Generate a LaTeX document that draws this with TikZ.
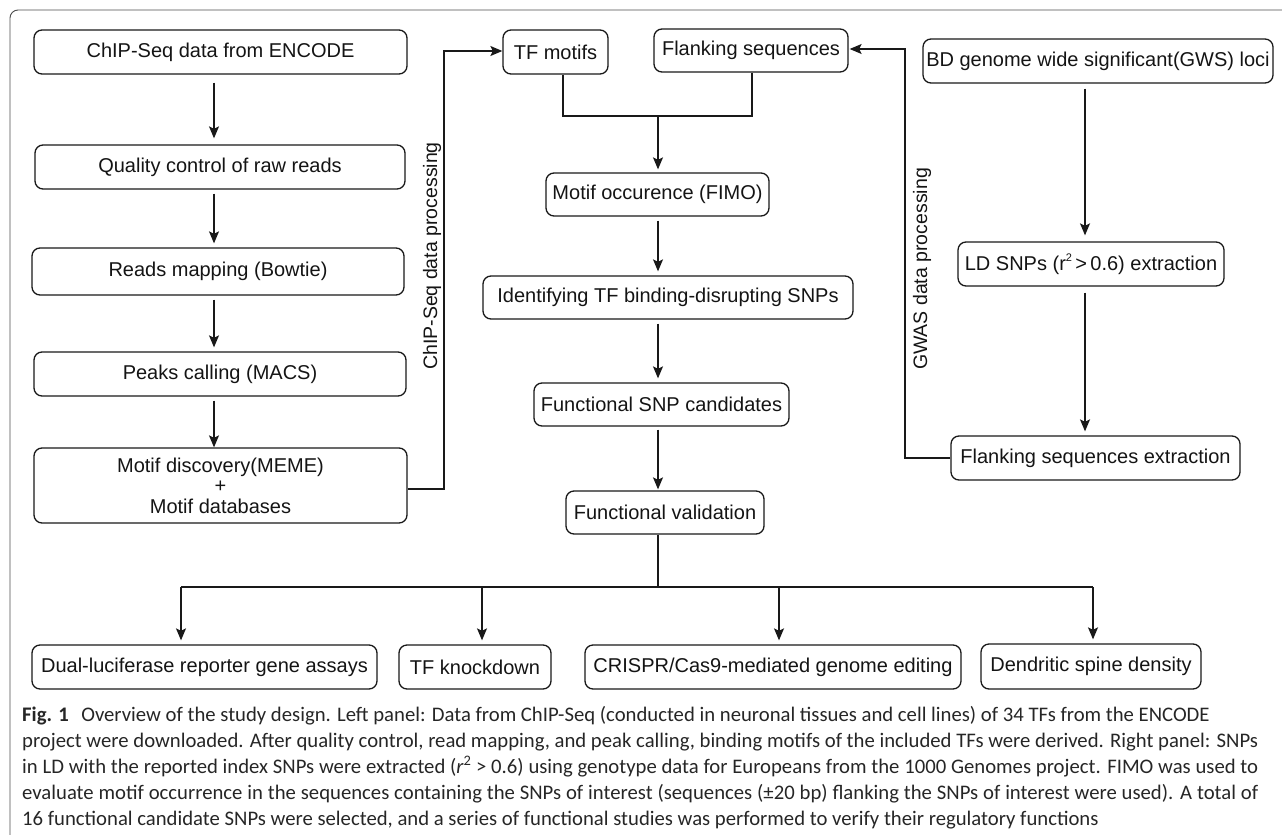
\documentclass[tikz,border=0pt]{standalone}
\usepackage{fontspec}
\setmainfont{Liberation Sans}
\newfontfamily\capfont{Carlito}
\usetikzlibrary{arrows.meta,calc}
\newcommand\capLa{\textbf{Fig. 1}\hspace{0.6em}Overview of the study design. Left panel: Data from ChIP-Seq (conducted in neuronal tissues and cell lines) of 34 TFs from the ENCODE}
\newcommand\capLb{project were downloaded. After quality control, read mapping, and peak calling, binding motifs of the included TFs were derived. Right panel: SNPs}
\newcommand\capLc{in LD with the reported index SNPs were extracted ({\itshape r}\textsuperscript{2} > 0.6) using genotype data for Europeans from the 1000 Genomes project. FIMO was used to}
\newcommand\capLd{evaluate motif occurrence in the sequences containing the SNPs of interest (sequences (±20 bp) flanking the SNPs of interest were used). A total of}
\newcommand\capLe{16 functional candidate SNPs were selected, and a series of functional studies was performed to verify their regulatory functions}
\newlength\capwa \newlength\capwb \newlength\capwc
\begin{document}
\settowidth\capwa{\capfont\fontsize{10}{12}\selectfont\capLb}%
\settowidth\capwb{\capfont\fontsize{10}{12}\selectfont\capLc}%
\settowidth\capwc{\capfont\fontsize{10}{12}\selectfont\capLd}%
\pgfmathsetmacro\capsize{10*1236/max(\capwa,\capwb,\capwc)}%
\begin{tikzpicture}[x=1pt,y=-1pt,
  box/.style={draw=black!90,line width=1.3pt,rounded corners=8pt,minimum height=44pt,inner sep=0pt,
    font=\fontsize{20}{20.5}\selectfont,align=center,text=black!92},
  conn/.style={line width=1.3pt,draw=black!90},
  arr/.style={conn,-{Stealth[length=12pt,width=10pt,inset=2.5pt]}},
  gap/.style={shorten <=4pt,shorten >=4pt},
  side/.style={rotate=90,inner sep=0pt,font=\fontsize{19.5}{20}\selectfont,text=black!92},
  captxt/.style={anchor=base west,inner sep=0pt,font=\capfont\fontsize{\capsize}{\capsize}\selectfont,text=black!85}
]
\useasboundingbox (0,0) rectangle (1282,835);
% frame
\draw[line width=0.9pt,draw=black!70,rounded corners=8pt] (10,835) -- (10,10) -- (1282,10);

% left column
\node[box,minimum width=373pt] (chip) at (220.5,52) {ChIP-Seq data from ENCODE};
\node[box,minimum width=370pt] (qc) at (220,167) {Quality control of raw reads};
\node[box,minimum width=372pt,minimum height=47pt] (map) at (218,271.5) {Reads mapping (Bowtie)};
\node[box,minimum width=372pt] (peak) at (220,374) {Peaks calling (MACS)};
\node[box,minimum width=373pt,minimum height=75pt] (meme) at (220.5,485.5) {Motif discovery(MEME)\\+\\Motif databases};

% middle column
\node[box,minimum width=105pt] (tf) at (555.5,52) {TF motifs};
\node[box,minimum width=194pt,minimum height=43pt] (flank) at (751,50.5) {Flanking sequences};
\node[box,minimum width=223pt,minimum height=43pt] (fimo) at (657.5,194.5) {Motif occurence (FIMO)};
\node[box,minimum width=370pt,minimum height=43pt] (ident) at (668,297.5) {Identifying TF binding-disrupting SNPs};
\node[box,minimum width=255pt,minimum height=43pt] (cand) at (661.5,404.5) {Functional SNP candidates};
\node[box,minimum width=198pt,minimum height=43pt] (fval) at (665,512.5) {Functional validation};

% right column
\node[box,minimum width=350pt] (bd) at (1098,61) {BD genome wide significant(GWS) loci};
\node[box,minimum width=266pt] (ld) at (1091,264) {LD SNPs (r\raisebox{0.45em}{\fontsize{11}{11}\selectfont 2}\,{>}\,0.6) extraction};
\node[box,minimum width=289pt] (fext) at (1095.5,458) {Flanking sequences extraction};

% bottom row
\node[box,minimum width=345pt] (dual) at (204.5,667) {Dual-luciferase reporter gene assays};
\node[box,minimum width=152pt] (tfk) at (475,667) {TF knockdown};
\node[box,minimum width=376pt] (crispr) at (773,667) {CRISPR/Cas9-mediated genome editing};
\node[box,minimum width=220pt,minimum height=45pt] (dend) at (1091,666.5) {Dendritic spine density};

% side labels
\node[side] (lchip) at (432,256) {ChIP-Seq data processing};
\node[side] (lgwas) at (922,269) {GWAS data processing};

% helper coordinates
\coordinate (xl) at (214,0);
\coordinate (xm) at (658,0);
\coordinate (xtf) at (563,0);
\coordinate (xfl) at (752,0);
\coordinate (xr) at (1085,0);
\coordinate (join) at (658,116);
\coordinate (cl) at (444,51);
\coordinate (cr) at (905,49);
\coordinate (busL) at (181,587);
\coordinate (busA) at (482,587);
\coordinate (busM) at (658,587);
\coordinate (busC) at (779,587);
\coordinate (busR) at (1093,587);

% left arrows
\draw[arr,shorten <=8pt,shorten >=6pt] (chip.south -| xl) -- (qc.north -| xl);
\draw[arr,gap] (qc.south -| xl) -- (map.north -| xl);
\draw[arr,gap] (map.south -| xl) -- (peak.north -| xl);
\draw[arr,shorten <=4pt] (peak.south -| xl) -- (meme.north -| xl);
\draw[arr] (meme.east |- 0,489) -| (cl) -- (tf.west |- cl);

% middle arrows
\draw[conn] (tf.south -| xtf) |- (join);
\draw[conn] (flank.south -| xfl) |- (join);
\draw[arr,shorten >=3pt] (join) -- (fimo.north -| xm);
\draw[arr,gap] (fimo.south -| xm) -- (ident.north -| xm);
\draw[arr,gap] (ident.south -| xm) -- (cand.north -| xm);
\draw[arr,shorten <=3pt,shorten >=1pt] (cand.south -| xm) -- (fval.north -| xm);

% right arrows
\draw[arr,shorten <=5pt,shorten >=6pt] (bd.south -| xr) -- (ld.north -| xr);
\draw[arr,shorten <=6pt,shorten >=4pt] (ld.south -| xr) -- (fext.north -| xr);
\draw[arr,shorten >=1pt] (fext.west) -| (cr) -- (flank.east |- cr);

% bus
\draw[conn] (fval.south -| busM) -- (busM);
\draw[conn] (busL) -- (busR);
\draw[arr,shorten >=4pt] (busL) -- (dual.north -| busL);
\draw[arr,shorten >=4pt] (busA) -- (tfk.north -| busA);
\draw[arr,shorten >=4pt] (busC) -- (crispr.north -| busC);
\draw[arr,shorten >=4pt] (busR) -- (dend.north -| busR);

% caption
\node[captxt] (cap1) at (22,721) {\capLa};
\node[captxt] (cap2) at (22,747) {\makebox[1236pt][s]{\capLb}};
\node[captxt] (cap3) at (22,773) {\makebox[1236pt][s]{\capLc}};
\node[captxt] (cap4) at (22,799) {\makebox[1236pt][s]{\capLd}};
\node[captxt] (cap5) at (22,825) {\capLe};
\end{tikzpicture}
\end{document}
